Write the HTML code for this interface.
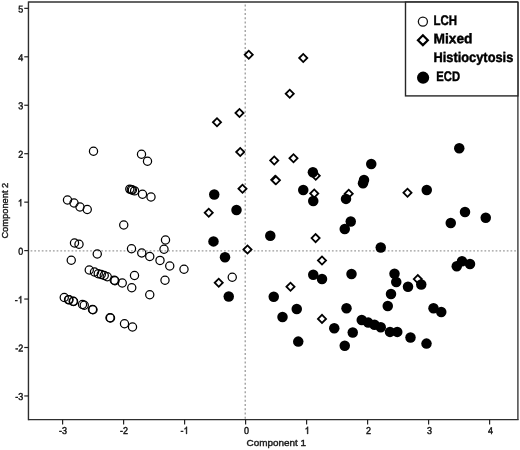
<!DOCTYPE html>
<html><head><meta charset="utf-8"><title>Scatter</title>
<style>
html,body{margin:0;padding:0;background:#fff;}
body{width:520px;height:450px;overflow:hidden;font-family:"Liberation Sans",sans-serif;}
svg{display:block;will-change:transform;}
text{font-family:"Liberation Sans",sans-serif;fill:#1a1a1a;}
.tk{font-size:10px;fill:#111;stroke:#111;stroke-width:0.42px;}
.ax{stroke:#1a1a1a;stroke-width:0.4px;}
.lg{font-size:14px;font-weight:bold;fill:#000;stroke:#000;stroke-width:0.45px;}
</style></head><body>
<svg width="520" height="450" viewBox="0 0 520 450">
<rect x="0" y="0" width="520" height="450" fill="#ffffff"/>
<line x1="30.6" y1="250.85" x2="517.9" y2="250.85" stroke="#9c9c9c" stroke-width="1.45" stroke-dasharray="1.75 1.97"/>
<line x1="245.2" y1="4.6" x2="245.2" y2="419.7" stroke="#8e8e8e" stroke-width="1.15" stroke-dasharray="2 2.25"/>
<g fill="#fff" fill-opacity="0" stroke="#000" stroke-width="1.25">
<circle cx="93.5" cy="151.25" r="4.1"/><circle cx="141.5" cy="154.25" r="4.1"/><circle cx="147.5" cy="161.25" r="4.1"/><circle cx="129.8" cy="189.1" r="4.1"/><circle cx="131.3" cy="189.7" r="4.1"/><circle cx="132.4" cy="190.0" r="4.1"/><circle cx="134.6" cy="190.9" r="4.1"/><circle cx="142.5" cy="194.25" r="4.1"/><circle cx="151" cy="197" r="4.1"/><circle cx="67.5" cy="200" r="4.1"/><circle cx="74" cy="203" r="4.1"/><circle cx="80" cy="207" r="4.1"/><circle cx="87.25" cy="209.5" r="4.1"/><circle cx="123.75" cy="225" r="4.1"/><circle cx="74.5" cy="243" r="4.1"/><circle cx="79" cy="244.25" r="4.1"/><circle cx="71.25" cy="260.25" r="4.1"/><circle cx="97.25" cy="254" r="4.1"/><circle cx="131.5" cy="248.75" r="4.1"/><circle cx="141.75" cy="253" r="4.1"/><circle cx="149.75" cy="256.5" r="4.1"/><circle cx="160" cy="260.4" r="4.1"/><circle cx="89.25" cy="270" r="4.1"/><circle cx="94.5" cy="272" r="4.1"/><circle cx="98.25" cy="273.75" r="4.1"/><circle cx="101.25" cy="274.5" r="4.1"/><circle cx="104.25" cy="275.5" r="4.1"/><circle cx="107.25" cy="276.75" r="4.1"/><circle cx="114.25" cy="280.25" r="4.1"/><circle cx="115" cy="280.75" r="4.1"/><circle cx="122.25" cy="283" r="4.1"/><circle cx="134.5" cy="275.5" r="4.1"/><circle cx="131.75" cy="287.75" r="4.1"/><circle cx="149.75" cy="294.75" r="4.1"/><circle cx="64.25" cy="297.5" r="4.1"/><circle cx="68.6" cy="299.6" r="4.1"/><circle cx="69.0" cy="299.8" r="4.1"/><circle cx="73.2" cy="301.3" r="4.1"/><circle cx="73.6" cy="301.5" r="4.1"/><circle cx="82.5" cy="304.5" r="4.1"/><circle cx="84.25" cy="305.25" r="4.1"/><circle cx="92.5" cy="309.5" r="4.1"/><circle cx="93" cy="309.75" r="4.1"/><circle cx="110" cy="317.75" r="4.1"/><circle cx="110.5" cy="318" r="4.1"/><circle cx="124.5" cy="323.75" r="4.1"/><circle cx="132.5" cy="327" r="4.1"/><circle cx="165.5" cy="240" r="4.1"/><circle cx="164" cy="249.25" r="4.1"/><circle cx="169.75" cy="266" r="4.1"/><circle cx="184" cy="269.25" r="4.1"/><circle cx="165" cy="280.25" r="4.1"/><circle cx="232.25" cy="277.25" r="4.1"/>
</g>
<g fill="#fff" stroke="#000" stroke-width="1.8">
<path d="M244.7 54.75L248.75 50.7L252.8 54.75L248.75 58.8Z"/><path d="M235.45 113L239.5 108.95L243.55 113L239.5 117.05Z"/><path d="M212.95 122.25L217 118.2L221.05 122.25L217 126.3Z"/><path d="M236.2 152L240.25 147.95L244.3 152L240.25 156.05Z"/><path d="M270.2 160.5L274.25 156.45L278.3 160.5L274.25 164.55Z"/><path d="M271.15 179.8L275.2 175.75L279.25 179.8L275.2 183.85000000000002Z"/><path d="M271.84999999999997 180.3L275.9 176.25L279.95 180.3L275.9 184.35000000000002Z"/><path d="M238.45 188.75L242.5 184.7L246.55 188.75L242.5 192.8Z"/><path d="M204.7 212.75L208.75 208.7L212.8 212.75L208.75 216.8Z"/><path d="M243.45 249.5L247.5 245.45L251.55 249.5L247.5 253.55Z"/><path d="M214.7 282.75L218.75 278.7L222.8 282.75L218.75 286.8Z"/><path d="M299.2 58L303.25 53.95L307.3 58L303.25 62.05Z"/><path d="M285.7 93.75L289.75 89.7L293.8 93.75L289.75 97.8Z"/><path d="M289.45 158.25L293.5 154.2L297.55 158.25L293.5 162.3Z"/><path d="M311.7 175.75L315.75 171.7L319.8 175.75L315.75 179.8Z"/><path d="M310.2 193.5L314.25 189.45L318.3 193.5L314.25 197.55Z"/><path d="M344.7 193.75L348.75 189.7L352.8 193.75L348.75 197.8Z"/><path d="M311.55 238.1L315.6 234.04999999999998L319.65000000000003 238.1L315.6 242.15Z"/><path d="M317.95 260.5L322 256.45L326.05 260.5L322 264.55Z"/><path d="M286.45 286.75L290.5 282.7L294.55 286.75L290.5 290.8Z"/><path d="M317.95 318.9L322 314.84999999999997L326.05 318.9L322 322.95Z"/><path d="M403.45 192.75L407.5 188.7L411.55 192.75L407.5 196.8Z"/><path d="M413.75 279.1L417.8 275.05L421.85 279.1L417.8 283.15000000000003Z"/>
</g>
<g fill="#000">
<circle cx="214.25" cy="194.5" r="5.25"/><circle cx="236.5" cy="210" r="5.25"/><circle cx="270.3" cy="235.8" r="5.25"/><circle cx="213.5" cy="241.4" r="5.25"/><circle cx="225" cy="257.25" r="5.25"/><circle cx="228.75" cy="296.5" r="5.25"/><circle cx="273.75" cy="296.75" r="5.25"/><circle cx="282.5" cy="317" r="5.25"/><circle cx="312.9" cy="172.3" r="5.25"/><circle cx="303.25" cy="190" r="5.25"/><circle cx="313.25" cy="201" r="5.25"/><circle cx="371.25" cy="164" r="5.25"/><circle cx="364" cy="180" r="5.25"/><circle cx="363" cy="183.25" r="5.25"/><circle cx="346.0" cy="198.9" r="5.25"/><circle cx="350.75" cy="221.5" r="5.25"/><circle cx="344.75" cy="229" r="5.25"/><circle cx="380.75" cy="247.5" r="5.25"/><circle cx="313.25" cy="274.75" r="5.25"/><circle cx="322" cy="279" r="5.25"/><circle cx="351.5" cy="274" r="5.25"/><circle cx="394.5" cy="273.75" r="5.25"/><circle cx="396.25" cy="282" r="5.25"/><circle cx="391" cy="294" r="5.25"/><circle cx="296.75" cy="309" r="5.25"/><circle cx="346.5" cy="308.25" r="5.25"/><circle cx="387.75" cy="306" r="5.25"/><circle cx="361.75" cy="320" r="5.25"/><circle cx="368.25" cy="322.6" r="5.25"/><circle cx="374.5" cy="324.75" r="5.25"/><circle cx="380.75" cy="327.25" r="5.25"/><circle cx="390" cy="331.9" r="5.25"/><circle cx="397.25" cy="331.9" r="5.25"/><circle cx="334.25" cy="328.25" r="5.25"/><circle cx="352.75" cy="332.5" r="5.25"/><circle cx="298.25" cy="341.6" r="5.25"/><circle cx="344.75" cy="345.75" r="5.25"/><circle cx="459.25" cy="148.25" r="5.25"/><circle cx="426.75" cy="190" r="5.25"/><circle cx="465" cy="212" r="5.25"/><circle cx="450.75" cy="223" r="5.25"/><circle cx="485.75" cy="217.75" r="5.25"/><circle cx="462" cy="261.25" r="5.25"/><circle cx="456.75" cy="266.25" r="5.25"/><circle cx="470" cy="264" r="5.25"/><circle cx="408" cy="286.75" r="5.25"/><circle cx="421.25" cy="284.5" r="5.25"/><circle cx="433.5" cy="308.25" r="5.25"/><circle cx="441.25" cy="312" r="5.25"/><circle cx="410.5" cy="337.5" r="5.25"/><circle cx="426.5" cy="343.6" r="5.25"/>
</g>
<g stroke="#2e2e2e" fill="none"><line x1="28.45" y1="1.45" x2="28.45" y2="420.34999999999997" stroke-width="1.4"/><line x1="28.45" y1="419.7" x2="518.6" y2="419.7" stroke-width="1.3"/><line x1="517.9" y1="2.0" x2="517.9" y2="419.7" stroke="#3a3a3a" stroke-width="1.4"/><line x1="28.45" y1="2.0" x2="517.9" y2="2.0" stroke="#303030" stroke-width="1.3"/></g>
<g stroke="#222" stroke-width="1.2">
<line x1="24.25" y1="395.95000000000005" x2="28.45" y2="395.95000000000005"/><line x1="24.25" y1="347.5" x2="28.45" y2="347.5"/><line x1="24.25" y1="299.05" x2="28.45" y2="299.05"/><line x1="24.25" y1="250.6" x2="28.45" y2="250.6"/><line x1="24.25" y1="202.14999999999998" x2="28.45" y2="202.14999999999998"/><line x1="24.25" y1="153.7" x2="28.45" y2="153.7"/><line x1="24.25" y1="105.24999999999997" x2="28.45" y2="105.24999999999997"/><line x1="24.25" y1="56.79999999999998" x2="28.45" y2="56.79999999999998"/><line x1="24.25" y1="8.349999999999994" x2="28.45" y2="8.349999999999994"/><line x1="62.599999999999994" y1="419.7" x2="62.599999999999994" y2="424.4"/><line x1="123.6" y1="419.7" x2="123.6" y2="424.4"/><line x1="184.6" y1="419.7" x2="184.6" y2="424.4"/><line x1="245.6" y1="419.7" x2="245.6" y2="424.4"/><line x1="306.6" y1="419.7" x2="306.6" y2="424.4"/><line x1="367.6" y1="419.7" x2="367.6" y2="424.4"/><line x1="428.6" y1="419.7" x2="428.6" y2="424.4"/><line x1="489.6" y1="419.7" x2="489.6" y2="424.4"/>
</g>
<g class="tk">
<text transform="translate(23.25 400.05000000000007) rotate(0.03) scale(0.9 1)" text-anchor="end" class="tk">-3</text><text transform="translate(23.25 351.6) rotate(0.03) scale(0.9 1)" text-anchor="end" class="tk">-2</text><text transform="translate(14.85 303.15000000000003) rotate(0.03) scale(0.9 1)" class="tk">-</text><path transform="translate(17.85 303.15000000000003) scale(9.0 10)" d="M0.373 0L0.285 0L0.285 -0.560Q0.253 -0.530 0.202 -0.500Q0.150 -0.470 0.109 -0.455L0.109 -0.540Q0.183 -0.575 0.239 -0.625Q0.295 -0.675 0.316 -0.720L0.373 -0.720Z" fill="#111" stroke="#111" stroke-width="0.045"/><text transform="translate(23.25 254.7) rotate(0.03) scale(0.9 1)" text-anchor="end" class="tk">0</text><path transform="translate(17.85 206.24999999999997) scale(9.0 10)" d="M0.373 0L0.285 0L0.285 -0.560Q0.253 -0.530 0.202 -0.500Q0.150 -0.470 0.109 -0.455L0.109 -0.540Q0.183 -0.575 0.239 -0.625Q0.295 -0.675 0.316 -0.720L0.373 -0.720Z" fill="#111" stroke="#111" stroke-width="0.045"/><text transform="translate(23.25 157.79999999999998) rotate(0.03) scale(0.9 1)" text-anchor="end" class="tk">2</text><text transform="translate(23.25 109.34999999999997) rotate(0.03) scale(0.9 1)" text-anchor="end" class="tk">3</text><text transform="translate(23.25 60.899999999999984) rotate(0.03) scale(0.9 1)" text-anchor="end" class="tk">4</text><text transform="translate(23.25 12.449999999999994) rotate(0.03) scale(0.9 1)" text-anchor="end" class="tk">5</text><text transform="translate(62.99999999999999 433.9) rotate(0.03) scale(0.9 1)" text-anchor="middle" class="tk">-3</text><text transform="translate(124.0 433.9) rotate(0.03) scale(0.9 1)" text-anchor="middle" class="tk">-2</text><text transform="translate(180.60 433.9) rotate(0.03) scale(0.9 1)" class="tk">-</text><path transform="translate(183.60 433.9) scale(9.0 10)" d="M0.373 0L0.285 0L0.285 -0.560Q0.253 -0.530 0.202 -0.500Q0.150 -0.470 0.109 -0.455L0.109 -0.540Q0.183 -0.575 0.239 -0.625Q0.295 -0.675 0.316 -0.720L0.373 -0.720Z" fill="#111" stroke="#111" stroke-width="0.045"/><text transform="translate(246.6 433.9) rotate(0.03) scale(0.9 1)" text-anchor="middle" class="tk">0</text><path transform="translate(304.70 433.9) scale(9.0 10)" d="M0.373 0L0.285 0L0.285 -0.560Q0.253 -0.530 0.202 -0.500Q0.150 -0.470 0.109 -0.455L0.109 -0.540Q0.183 -0.575 0.239 -0.625Q0.295 -0.675 0.316 -0.720L0.373 -0.720Z" fill="#111" stroke="#111" stroke-width="0.045"/><text transform="translate(368.6 433.9) rotate(0.03) scale(0.9 1)" text-anchor="middle" class="tk">2</text><text transform="translate(429.6 433.9) rotate(0.03) scale(0.9 1)" text-anchor="middle" class="tk">3</text><text transform="translate(490.6 433.9) rotate(0.03) scale(0.9 1)" text-anchor="middle" class="tk">4</text>
</g>
<text class="ax" x="246.5" y="446.3" font-size="9.2" textLength="59.5" lengthAdjust="spacingAndGlyphs">Component 1</text>
<text class="ax" transform="translate(7.9 238.6) rotate(-90)" font-size="8.5" textLength="55.9" lengthAdjust="spacingAndGlyphs">Component 2</text>
<rect x="405.5" y="2.1" width="112.4" height="93.8" fill="#fff" stroke="#262626" stroke-width="1.4"/>
<circle cx="422.9" cy="21.6" r="4.55" fill="#fff" stroke="#111" stroke-width="1.3"/>
<path d="M417.95 40.2L422.9 35.25L427.84999999999997 40.2L422.9 45.150000000000006Z" fill="#fff" stroke="#000" stroke-width="2.2"/>
<circle cx="423.1" cy="77.7" r="6.1" fill="#000"/>
<text class="lg" transform="translate(433.5 24.5) rotate(0.03)" textLength="23.5" lengthAdjust="spacingAndGlyphs">LCH</text>
<text class="lg" transform="translate(433.5 43.3) rotate(0.03)" textLength="39" lengthAdjust="spacingAndGlyphs">Mixed</text>
<text class="lg" transform="translate(433.5 61.8) rotate(0.03)" textLength="79.8" lengthAdjust="spacingAndGlyphs">Histiocytosis</text>
<text class="lg" transform="translate(436.3 81) rotate(0.03)" textLength="23.7" lengthAdjust="spacingAndGlyphs">ECD</text>
</svg>
</body></html>
